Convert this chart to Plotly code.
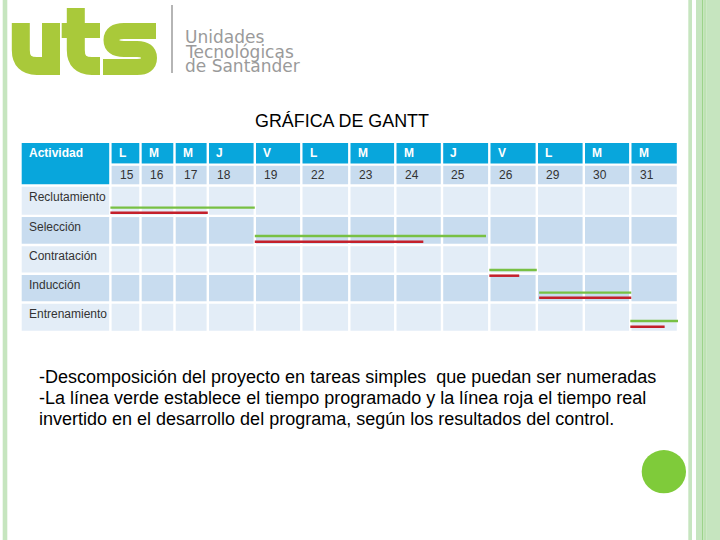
import numpy as np
import plotly.graph_objects as go

# ---------------- data ----------------
activities = ["Reclutamiento", "Selección", "Contratación", "Inducción", "Entrenamiento"]
day_letters = ["L", "M", "M", "J", "V", "L", "M", "M", "J", "V", "L", "M", "M"]
day_numbers = ["15", "16", "17", "18", "19", "22", "23", "24", "25", "26", "29", "30", "31"]
# planned (green) and real (red) time, in day-column units (0 = start of "L 15")
plan_start = [0, 4, 9, 10.05, 12]
plan_end = [4, 8.93, 10, 12.02, 13]
real_start = [0, 4, 9, 10.05, 12]
real_end = [3, 7.6, 9.63, 12.02, 12.72]

title = "GRÁFICA DE GANTT"
logo_lines = ["Unidades", "Tecnológicas", "de Santander"]
notes = [
    "-Descomposición del proyecto en tareas simples  que puedan ser numeradas",
    "-La línea verde establece el tiempo programado y la línea roja el tiempo real",
    "invertido en el desarrollo del programa, según los resultados del control.",
]

# ---------------- layout constants ----------------
W, H = 720, 540
col_edges = [110.4, 140.5, 174.5, 207.8, 254.8, 301.3, 349.3, 395.3, 442, 489.3,
             536.8, 583.8, 630.3, 678]
label_left = 21.7
row_edges = [143, 164.6, 185.5, 215.9, 245, 273.8, 302.5, 332]
gap = 1.2
green_off = [21, 18.9, 23.8, 17.7, 17.3]   # vertical placement of lines inside each row
red_off = [26, 24.6, 29.5, 22.7, 23]

C_HEAD = "#08A6DC"
C_DARK = "#C8DCEF"
C_LIGHT = "#E3EDF7"
C_GREEN = "#78C043"
C_RED = "#C4202B"
C_BORDER = "#C6E5BF"
C_LIME = "#A9C93A"


def xmap(v):
    return np.interp(v, np.arange(len(col_edges)), col_edges)


fig = go.Figure()
shapes = []
annotations = []


def rect(x0, x1, y0, y1, color):
    shapes.append(dict(type="rect", xref="x", yref="y", x0=x0, x1=x1, y0=y0, y1=y1,
                       fillcolor=color, line=dict(width=0), layer="below"))


def stroke(path, width, color):
    shapes.append(dict(type="path", xref="x", yref="y", path=path,
                       line=dict(color=color, width=width), layer="below"))


def text(x, y, s, size, color="#333333", family="Liberation Sans, Arial", anchor="left",
         weight="normal"):
    annotations.append(dict(x=x, y=y, xref="x", yref="y", text=s, showarrow=False,
                            xanchor=anchor, yanchor="middle",
                            font=dict(family=family, size=size, color=color, weight=weight)))


# slide decoration
rect(2.7, 7.3, 0, H, C_BORDER)
rect(688.3, 692, 0, H, C_BORDER)
rect(696, 702, 0, H, C_BORDER)
rect(702, 703.3, 0, H, "#9CD38A")
rect(703.3, 706.7, 0, H, "#BEE2B3")
rect(706.7, W, 0, H, C_BORDER)
shapes.append(dict(type="circle", xref="x", yref="y", x0=641.7, x1=686, y0=450, y1=493.3,
                   fillcolor="#7FCB3A", line=dict(width=0), layer="below"))

# logo "uts" drawn as heavy strokes
stroke("M 20.8 23 V 50 Q 20.8 66 36.8 66 H 51", 18, C_LIME)   # u bowl
rect(42, 60, 23, 75, C_LIME)                                   # u right stem
stroke("M 75.8 8 V 50 Q 75.8 66 91.8 66 H 100", 18, C_LIME)   # t stem + foot
rect(61.7, 100, 23, 38, C_LIME)                                # t crossbar
stroke("M 156 31 H 124 Q 111.5 31 111.5 40 Q 111.5 49 124 49 H 137 "
       "Q 149 49 149 58 Q 149 67 137 67 H 103", 16, C_LIME)     # s
shapes.append(dict(type="line", xref="x", yref="y", x0=172, x1=172, y0=5, y1=73,
                   line=dict(color="#B5B5B5", width=2)))
for j, s in enumerate(logo_lines):
    text(183, 37 + 14.5 * j, s, 17, color="#9A9A9A", family="DejaVu Sans")

# title
text(342, 121, title, 17.9, color="#000000", anchor="center")

# table header
rect(label_left, col_edges[0] - gap, row_edges[0], row_edges[2] - gap, C_HEAD)
text(label_left + 5, (row_edges[0] + row_edges[1]) / 2 - 1, "Actividad", 12,
     color="#FFFFFF", weight="bold")
for k in range(len(day_letters)):
    x0, x1 = col_edges[k] + gap, col_edges[k + 1] - gap
    rect(x0, x1, row_edges[0], row_edges[1] - gap, C_HEAD)
    rect(x0, x1, row_edges[1] + gap, row_edges[2] - gap, C_DARK)
    text(x0 + 5, (row_edges[0] + row_edges[1]) / 2 - 1, day_letters[k], 12,
         color="#FFFFFF", weight="bold")
    text(x0 + 6, (row_edges[1] + row_edges[2]) / 2, day_numbers[k], 12)

# table body
for i, act in enumerate(activities):
    y0, y1 = row_edges[i + 2] + gap, row_edges[i + 3] - gap
    col = C_LIGHT if i % 2 == 0 else C_DARK
    rect(label_left, col_edges[0] - gap, y0, y1, col)
    for k in range(len(day_letters)):
        rect(col_edges[k] + gap, col_edges[k + 1] - gap, y0, y1, col)
    text(label_left + 5, y0 + 10, act, 12)

# gantt lines
for i in range(len(activities)):
    top = row_edges[i + 2] + gap
    yg, yr = top + green_off[i], top + red_off[i]
    fig.add_trace(go.Scatter(x=xmap([plan_start[i], plan_end[i]]), y=[yg, yg],
                             mode="lines", line=dict(color=C_GREEN, width=2.3),
                             hoverinfo="skip", showlegend=False))
    fig.add_trace(go.Scatter(x=xmap([real_start[i], real_end[i]]), y=[yr, yr],
                             mode="lines", line=dict(color=C_RED, width=2.5),
                             hoverinfo="skip", showlegend=False))

# notes
for j, line in enumerate(notes):
    text(37, 376.5 + 21 * j, line, 18, color="#000000")

fig.update_layout(
    width=W, height=H, margin=dict(l=0, r=0, t=0, b=0),
    paper_bgcolor="white", plot_bgcolor="white",
    xaxis=dict(range=[0, W], visible=False, fixedrange=True),
    yaxis=dict(range=[H, 0], visible=False, fixedrange=True),
    shapes=shapes, annotations=annotations, showlegend=False,
)
fig.write_html("out.html", config={"displayModeBar": False},
               post_script="document.body.style.margin='0px';")
